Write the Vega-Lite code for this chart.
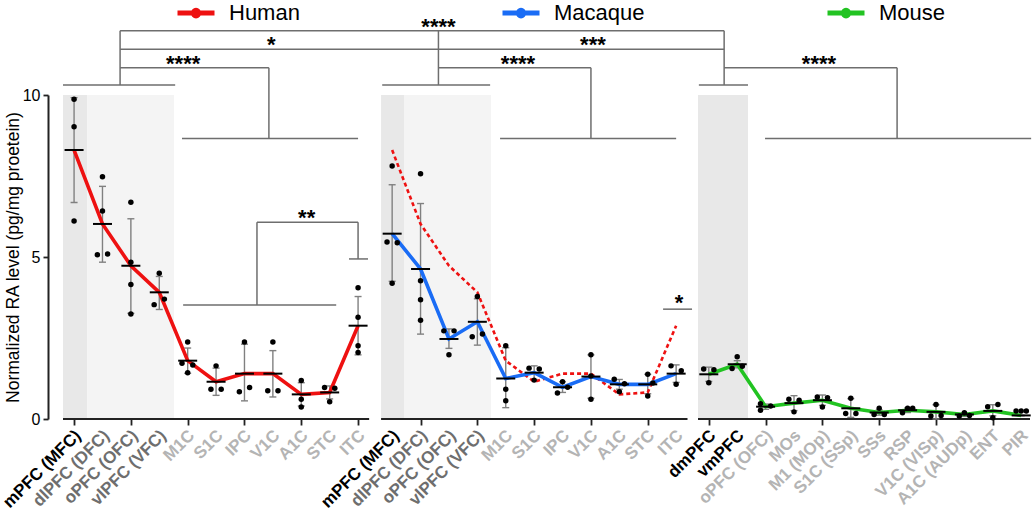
{
  "$schema": "https://vega.github.io/schema/vega-lite/v6.json",
  "width": 967,
  "height": 324,
  "autosize": {"type": "none"},
  "padding": {"left": 63, "top": 95, "right": 5, "bottom": 94},
  "background": "white",
  "config": {"view": {"stroke": null}, "font": "Liberation Sans"},
  "datasets": {
    "shade": [
      {"x0": -0.39, "x1": 0.46, "tone": "dark"},
      {"x0": 0.46, "x1": 3.52, "tone": "light"},
      {"x0": 10.81, "x1": 11.62, "tone": "dark"},
      {"x0": 11.62, "x1": 14.68, "tone": "light"},
      {"x0": 21.97, "x1": 23.73, "tone": "dark"}
    ],
    "panels": [
      {"species": "Human", "start": -0.39, "end": 10.39},
      {"species": "Macaque", "start": 10.81, "end": 21.6},
      {"species": "Mouse", "start": 21.97, "end": 33.66}
    ],
    "brackets": [
      {"x": 1.62, "x2": 22.89, "y": 11.98, "y2": 11.98},
      {"x": 1.62, "x2": 22.89, "y": 11.41, "y2": 11.41},
      {"x": 1.62, "x2": 1.62, "y": 11.98, "y2": 10.31},
      {"x": 22.89, "x2": 22.89, "y": 11.98, "y2": 10.31},
      {"x": 12.83, "x2": 12.83, "y": 11.98, "y2": 10.31},
      {"x": -0.39, "x2": 3.56, "y": 10.31, "y2": 10.31},
      {"x": 10.85, "x2": 14.65, "y": 10.31, "y2": 10.31},
      {"x": 22.0, "x2": 23.73, "y": 10.31, "y2": 10.31},
      {"x": 1.62, "x2": 6.86, "y": 10.84, "y2": 10.84},
      {"x": 6.86, "x2": 6.86, "y": 10.84, "y2": 8.66},
      {"x": 12.83, "x2": 18.2, "y": 10.84, "y2": 10.84},
      {"x": 18.2, "x2": 18.2, "y": 10.84, "y2": 8.66},
      {"x": 22.89, "x2": 28.98, "y": 10.84, "y2": 10.84},
      {"x": 28.98, "x2": 28.98, "y": 10.84, "y2": 8.66},
      {"x": 3.8, "x2": 10.0, "y": 8.66, "y2": 8.66},
      {"x": 15.0, "x2": 21.2, "y": 8.66, "y2": 8.66},
      {"x": 24.33, "x2": 33.7, "y": 8.66, "y2": 8.66},
      {"x": 6.44, "x2": 10.0, "y": 6.07, "y2": 6.07},
      {"x": 6.44, "x2": 6.44, "y": 6.07, "y2": 3.52},
      {"x": 10.0, "x2": 10.0, "y": 6.07, "y2": 4.94},
      {"x": 3.84, "x2": 9.23, "y": 3.52, "y2": 3.52},
      {"x": 9.68, "x2": 10.35, "y": 4.94, "y2": 4.94},
      {"x": 20.74, "x2": 21.76, "y": 3.39, "y2": 3.39}
    ],
    "stars": [
      {"text": "****", "x": 12.83, "y": 11.98},
      {"text": "*", "x": 6.94, "y": 11.41},
      {"text": "***", "x": 18.27, "y": 11.41},
      {"text": "****", "x": 3.84, "y": 10.84},
      {"text": "****", "x": 15.63, "y": 10.84},
      {"text": "****", "x": 26.23, "y": 10.84},
      {"text": "**", "x": 8.19, "y": 6.07},
      {"text": "*", "x": 21.3, "y": 3.45}
    ],
    "summary": [
      {"species": "Human", "region": "mPFC (MFC)", "pos": 0, "mean": 8.3, "lo": 6.68, "hi": 9.92, "tone": "main"},
      {"species": "Human", "region": "dlPFC (DFC)", "pos": 1, "mean": 6.02, "lo": 4.84, "hi": 7.18, "tone": "sub"},
      {"species": "Human", "region": "oPFC (OFC)", "pos": 2, "mean": 4.73, "lo": 3.26, "hi": 6.18, "tone": "sub"},
      {"species": "Human", "region": "vlPFC (VFC)", "pos": 3, "mean": 3.91, "lo": 3.38, "hi": 4.4, "tone": "sub"},
      {"species": "Human", "region": "M1C", "pos": 4, "mean": 1.8, "lo": 1.41, "hi": 2.19, "tone": "other"},
      {"species": "Human", "region": "S1C", "pos": 5, "mean": 1.15, "lo": 0.73, "hi": 1.57, "tone": "other"},
      {"species": "Human", "region": "IPC", "pos": 6, "mean": 1.4, "lo": 0.56, "hi": 2.31, "tone": "other"},
      {"species": "Human", "region": "V1C", "pos": 7, "mean": 1.4, "lo": 0.68, "hi": 2.11, "tone": "other"},
      {"species": "Human", "region": "A1C", "pos": 8, "mean": 0.76, "lo": 0.4, "hi": 1.12, "tone": "other"},
      {"species": "Human", "region": "STC", "pos": 9, "mean": 0.82, "lo": 0.62, "hi": 1.02, "tone": "other"},
      {"species": "Human", "region": "ITC", "pos": 10, "mean": 2.88, "lo": 1.98, "hi": 3.78, "tone": "other"},
      {"species": "Macaque", "region": "mPFC (MFC)", "pos": 11.2, "mean": 5.72, "lo": 4.25, "hi": 7.23, "tone": "main"},
      {"species": "Macaque", "region": "dlPFC (DFC)", "pos": 12.2, "mean": 4.63, "lo": 2.62, "hi": 6.65, "tone": "sub"},
      {"species": "Macaque", "region": "oPFC (OFC)", "pos": 13.2, "mean": 2.47, "lo": 2.18, "hi": 2.78, "tone": "sub"},
      {"species": "Macaque", "region": "vlPFC (VFC)", "pos": 14.2, "mean": 3.0, "lo": 2.28, "hi": 3.71, "tone": "sub"},
      {"species": "Macaque", "region": "M1C", "pos": 15.2, "mean": 1.25, "lo": 0.35, "hi": 2.2, "tone": "other"},
      {"species": "Macaque", "region": "S1C", "pos": 16.2, "mean": 1.43, "lo": 1.22, "hi": 1.64, "tone": "other"},
      {"species": "Macaque", "region": "IPC", "pos": 17.2, "mean": 0.98, "lo": 0.82, "hi": 1.15, "tone": "other"},
      {"species": "Macaque", "region": "V1C", "pos": 18.2, "mean": 1.31, "lo": 0.64, "hi": 1.98, "tone": "other"},
      {"species": "Macaque", "region": "A1C", "pos": 19.2, "mean": 1.07, "lo": 0.92, "hi": 1.22, "tone": "other"},
      {"species": "Macaque", "region": "STC", "pos": 20.2, "mean": 1.07, "lo": 0.78, "hi": 1.38, "tone": "other"},
      {"species": "Macaque", "region": "ITC", "pos": 21.2, "mean": 1.4, "lo": 1.13, "hi": 1.67, "tone": "other"},
      {"species": "Mouse", "region": "dmPFC", "pos": 22.35, "mean": 1.38, "lo": 1.16, "hi": 1.6, "tone": "main"},
      {"species": "Mouse", "region": "vmPFC", "pos": 23.35, "mean": 1.69, "lo": 1.58, "hi": 1.8, "tone": "main"},
      {"species": "Mouse", "region": "oPFC (OFC)", "pos": 24.35, "mean": 0.38, "lo": 0.3, "hi": 0.46, "tone": "other"},
      {"species": "Mouse", "region": "MOs", "pos": 25.35, "mean": 0.49, "lo": 0.26, "hi": 0.72, "tone": "other"},
      {"species": "Mouse", "region": "M1 (MOp)", "pos": 26.35, "mean": 0.58, "lo": 0.42, "hi": 0.74, "tone": "other"},
      {"species": "Mouse", "region": "S1C (SSp)", "pos": 27.35, "mean": 0.33, "lo": 0.05, "hi": 0.63, "tone": "other"},
      {"species": "Mouse", "region": "SSs", "pos": 28.35, "mean": 0.2, "lo": 0.12, "hi": 0.28, "tone": "other"},
      {"species": "Mouse", "region": "RSP", "pos": 29.35, "mean": 0.27, "lo": 0.2, "hi": 0.34, "tone": "other"},
      {"species": "Mouse", "region": "V1C (VISp)", "pos": 30.35, "mean": 0.22, "lo": 0.0, "hi": 0.44, "tone": "other"},
      {"species": "Mouse", "region": "A1C (AUDp)", "pos": 31.35, "mean": 0.14, "lo": 0.08, "hi": 0.19, "tone": "other"},
      {"species": "Mouse", "region": "ENT", "pos": 32.35, "mean": 0.25, "lo": 0.1, "hi": 0.44, "tone": "other"},
      {"species": "Mouse", "region": "PIR", "pos": 33.35, "mean": 0.11, "lo": 0.1, "hi": 0.12, "tone": "other"}
    ],
    "overlay": [
      {"pos": 11.2, "value": 8.3}, {"pos": 12.2, "value": 6.02}, {"pos": 13.2, "value": 4.73},
      {"pos": 14.2, "value": 3.91}, {"pos": 15.2, "value": 1.8}, {"pos": 16.2, "value": 1.15},
      {"pos": 17.2, "value": 1.4}, {"pos": 18.2, "value": 1.4}, {"pos": 19.2, "value": 0.76},
      {"pos": 20.2, "value": 0.82}, {"pos": 21.2, "value": 2.88}
    ],
    "points": [
      {"pos": 0, "value": 9.87}, {"pos": 0, "value": 9.02}, {"pos": 0, "value": 6.11},
      {"pos": 1, "value": 7.48}, {"pos": 1, "value": 6.42}, {"pos": 0.82, "value": 5.07}, {"pos": 1.18, "value": 5.09},
      {"pos": 2, "value": 6.69}, {"pos": 2, "value": 4.84}, {"pos": 2, "value": 4.15}, {"pos": 2, "value": 3.24},
      {"pos": 3, "value": 4.5}, {"pos": 2.82, "value": 3.53}, {"pos": 3.18, "value": 3.7},
      {"pos": 4, "value": 2.38}, {"pos": 3.8, "value": 1.72}, {"pos": 4, "value": 1.43}, {"pos": 4.18, "value": 1.67},
      {"pos": 5, "value": 1.64}, {"pos": 4.82, "value": 0.92}, {"pos": 5.18, "value": 0.92},
      {"pos": 6, "value": 2.38}, {"pos": 5.82, "value": 0.84}, {"pos": 6.18, "value": 0.97},
      {"pos": 7, "value": 2.38}, {"pos": 6.82, "value": 0.87}, {"pos": 7.18, "value": 0.87},
      {"pos": 8, "value": 1.19}, {"pos": 8, "value": 0.61}, {"pos": 8, "value": 0.37},
      {"pos": 8.82, "value": 0.97}, {"pos": 9.18, "value": 0.95}, {"pos": 9, "value": 0.53},
      {"pos": 10, "value": 4.05}, {"pos": 10, "value": 3.14}, {"pos": 10, "value": 2.26}, {"pos": 10, "value": 2.05},
      {"pos": 11.2, "value": 7.81}, {"pos": 11.02, "value": 5.46}, {"pos": 11.38, "value": 5.44}, {"pos": 11.2, "value": 4.19},
      {"pos": 12.2, "value": 7.57}, {"pos": 12.2, "value": 4.27}, {"pos": 12.2, "value": 3.68}, {"pos": 12.2, "value": 3.05},
      {"pos": 13.02, "value": 2.72}, {"pos": 13.38, "value": 2.72}, {"pos": 13.2, "value": 1.98},
      {"pos": 14.2, "value": 3.78}, {"pos": 14.02, "value": 2.54}, {"pos": 14.38, "value": 2.62},
      {"pos": 15.2, "value": 2.26}, {"pos": 15.2, "value": 0.92}, {"pos": 15.2, "value": 0.56},
      {"pos": 16.02, "value": 1.57}, {"pos": 16.38, "value": 1.54}, {"pos": 16.2, "value": 1.2},
      {"pos": 17.2, "value": 1.15}, {"pos": 17.02, "value": 0.8}, {"pos": 17.38, "value": 0.98},
      {"pos": 18.2, "value": 1.98}, {"pos": 18.2, "value": 1.33}, {"pos": 18.2, "value": 0.61},
      {"pos": 19.02, "value": 1.23}, {"pos": 19.2, "value": 0.84}, {"pos": 19.38, "value": 1.09},
      {"pos": 20.2, "value": 1.38}, {"pos": 20.2, "value": 0.71}, {"pos": 20.38, "value": 1.11},
      {"pos": 21.02, "value": 1.64}, {"pos": 21.38, "value": 1.49}, {"pos": 21.2, "value": 1.07},
      {"pos": 22.17, "value": 1.54}, {"pos": 22.53, "value": 1.52}, {"pos": 22.35, "value": 1.12},
      {"pos": 23.35, "value": 1.92}, {"pos": 23.17, "value": 1.56}, {"pos": 23.53, "value": 1.63},
      {"pos": 24.17, "value": 0.47}, {"pos": 24.17, "value": 0.27}, {"pos": 24.53, "value": 0.4},
      {"pos": 25.17, "value": 0.61}, {"pos": 25.53, "value": 0.58}, {"pos": 25.35, "value": 0.22},
      {"pos": 26.17, "value": 0.68}, {"pos": 26.53, "value": 0.66}, {"pos": 26.35, "value": 0.37},
      {"pos": 27.35, "value": 0.64}, {"pos": 27.17, "value": 0.17}, {"pos": 27.53, "value": 0.17},
      {"pos": 28.35, "value": 0.33}, {"pos": 28.17, "value": 0.14}, {"pos": 28.53, "value": 0.14},
      {"pos": 29.17, "value": 0.19}, {"pos": 29.35, "value": 0.33}, {"pos": 29.53, "value": 0.33},
      {"pos": 30.35, "value": 0.45}, {"pos": 30.17, "value": 0.09}, {"pos": 30.53, "value": 0.11},
      {"pos": 31.35, "value": 0.19}, {"pos": 31.17, "value": 0.09}, {"pos": 31.53, "value": 0.11},
      {"pos": 32.17, "value": 0.38}, {"pos": 32.53, "value": 0.45}, {"pos": 32.35, "value": 0.04},
      {"pos": 33.17, "value": 0.25}, {"pos": 33.35, "value": 0.25}, {"pos": 33.53, "value": 0.25}
    ]
  },
  "layer": [
    {
      "data": {"name": "shade"},
      "transform": [{"filter": "datum.tone == 'dark'"}],
      "mark": {"type": "rect", "color": "#e8e8e8"},
      "encoding": {
        "x": {
          "field": "x0", "type": "quantitative",
          "scale": {"domain": [-0.39, 33.66], "nice": false, "zero": false},
          "axis": {
            "values": [0, 1, 2, 3, 4, 5, 6, 7, 8, 9, 10, 11.2, 12.2, 13.2, 14.2, 15.2, 16.2, 17.2, 18.2, 19.2, 20.2, 21.2, 22.35, 23.35, 24.35, 25.35, 26.35, 27.35, 28.35, 29.35, 30.35, 31.35, 32.35, 33.35],
            "labels": false, "domain": false, "grid": false, "ticks": true,
            "tickSize": 6, "tickWidth": 1.8, "tickColor": "#222", "title": null
          }
        },
        "x2": {"field": "x1"},
        "y": {
          "datum": 0, "type": "quantitative",
          "scale": {"domain": [0, 10], "nice": false},
          "axis": {
            "values": [0, 5, 10], "title": "Normalized RA level (pg/mg proetein)",
            "titleFontSize": 17.5, "titleFontWeight": "normal", "titleColor": "black", "titleFont": "Liberation Sans",
            "labelFontSize": 16, "labelColor": "black", "labelFont": "Liberation Sans",
            "offset": 15, "domainColor": "#222", "domainWidth": 2, "tickColor": "#222", "tickWidth": 1.8,
            "tickSize": 5, "labelPadding": 3, "titlePadding": 0, "grid": false, "labelFlush": false, "labelOverlap": false
          }
        },
        "y2": {"datum": 10}
      }
    },
    {
      "data": {"name": "shade"},
      "transform": [{"filter": "datum.tone == 'light'"}],
      "mark": {"type": "rect", "color": "#f4f4f4"},
      "encoding": {
        "x": {"field": "x0", "type": "quantitative"},
        "x2": {"field": "x1"},
        "y": {"datum": 0, "type": "quantitative"},
        "y2": {"datum": 10}
      }
    },
    {
      "data": {"name": "panels"},
      "mark": {"type": "rule", "color": "#222", "strokeWidth": 2},
      "encoding": {
        "x": {"field": "start", "type": "quantitative"},
        "x2": {"field": "end"},
        "y": {"datum": 0, "type": "quantitative"}
      }
    },
    {
      "data": {"name": "brackets"},
      "mark": {"type": "rule", "color": "#6e6e6e", "strokeWidth": 1.5},
      "encoding": {
        "x": {"field": "x", "type": "quantitative"},
        "x2": {"field": "x2"},
        "y": {"field": "y", "type": "quantitative"},
        "y2": {"field": "y2"}
      }
    },
    {
      "data": {"name": "stars"},
      "mark": {"type": "text", "fontSize": 22, "fontWeight": "bold", "baseline": "middle", "align": "center", "dy": -4, "color": "black", "font": "Liberation Sans"},
      "encoding": {
        "x": {"field": "x", "type": "quantitative"},
        "y": {"field": "y", "type": "quantitative"},
        "text": {"field": "text"}
      }
    },
    {
      "data": {"name": "summary"},
      "mark": {"type": "rule", "color": "#808080", "strokeWidth": 1.4},
      "encoding": {
        "x": {"field": "pos", "type": "quantitative"},
        "y": {"field": "lo", "type": "quantitative"},
        "y2": {"field": "hi"}
      }
    },
    {
      "data": {"name": "summary"},
      "mark": {"type": "tick", "orient": "horizontal", "color": "#808080", "size": 7, "thickness": 1.4, "opacity": 1},
      "encoding": {
        "x": {"field": "pos", "type": "quantitative"},
        "y": {"field": "lo", "type": "quantitative"}
      }
    },
    {
      "data": {"name": "summary"},
      "mark": {"type": "tick", "orient": "horizontal", "color": "#808080", "size": 7, "thickness": 1.4, "opacity": 1},
      "encoding": {
        "x": {"field": "pos", "type": "quantitative"},
        "y": {"field": "hi", "type": "quantitative"}
      }
    },
    {
      "data": {"name": "overlay"},
      "mark": {"type": "line", "color": "#ee1111", "strokeWidth": 2.6, "strokeDash": [4, 3]},
      "encoding": {
        "x": {"field": "pos", "type": "quantitative"},
        "y": {"field": "value", "type": "quantitative"}
      }
    },
    {
      "data": {"name": "summary"},
      "mark": {"type": "line", "strokeWidth": 3.6},
      "encoding": {
        "x": {"field": "pos", "type": "quantitative"},
        "y": {"field": "mean", "type": "quantitative"},
        "color": {
          "field": "species", "type": "nominal",
          "scale": {"domain": ["Human", "Macaque", "Mouse"], "range": ["#ee1111", "#1a6cf5", "#22c322"]},
          "legend": {
            "title": null, "orient": "none", "legendX": 112, "legendY": -103,
            "direction": "horizontal", "columns": 3, "gridAlign": "all", "columnPadding": 172, "padding": 0,
            "symbolType": "M-1,0H1M0.15,0A0.15,0.15,0,1,1,-0.15,0A0.15,0.15,0,1,1,0.15,0Z",
            "symbolSize": 1369, "symbolStrokeWidth": 5,
            "labelFontSize": 22, "labelFont": "Liberation Sans", "labelColor": "black", "labelOffset": 12, "labelLimit": 300,
            "encode": {"symbols": {"update": {"fill": {"scale": "color", "field": "value"}, "opacity": {"value": 1}}}}
          }
        }
      }
    },
    {
      "data": {"name": "summary"},
      "mark": {"type": "tick", "orient": "horizontal", "color": "black", "size": 19, "thickness": 2, "opacity": 1},
      "encoding": {
        "x": {"field": "pos", "type": "quantitative"},
        "y": {"field": "mean", "type": "quantitative"}
      }
    },
    {
      "data": {"name": "points"},
      "mark": {"type": "circle", "color": "black", "size": 30, "opacity": 1},
      "encoding": {
        "x": {"field": "pos", "type": "quantitative"},
        "y": {"field": "value", "type": "quantitative"}
      }
    },
    {
      "data": {"name": "summary"},
      "mark": {"type": "text", "angle": 315, "align": "right", "baseline": "middle", "dx": -7, "dy": 13, "fontSize": 17, "fontWeight": "bold", "font": "Liberation Sans"},
      "encoding": {
        "x": {"field": "pos", "type": "quantitative"},
        "y": {"datum": 0, "type": "quantitative"},
        "text": {"field": "region"},
        "fill": {
          "field": "tone", "type": "nominal",
          "scale": {"domain": ["main", "sub", "other"], "range": ["#000000", "#6e6e6e", "#b4b4b4"]},
          "legend": null
        }
      }
    }
  ]
}
